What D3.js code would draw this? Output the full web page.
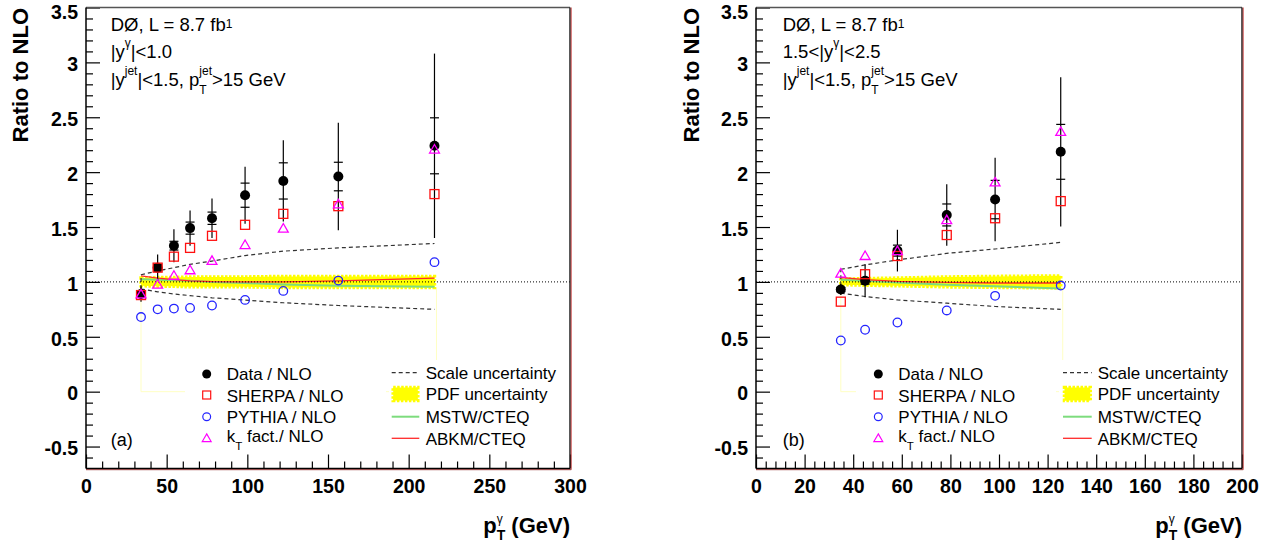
<!DOCTYPE html>
<html><head><meta charset="utf-8">
<script src="https://cdn.jsdelivr.net/npm/d3@7"></script>
<style>body{margin:0;background:#fff} svg{display:block} text{white-space:pre}</style>
</head><body>
<svg id="c" width="1279" height="544"></svg>
<script>
// ---------------- data ----------------
const yTicks = [-0.5, 0, 0.5, 1, 1.5, 2, 2.5, 3, 3.5];
const xTicksA = [0, 50, 100, 150, 200, 250, 300];
const xTicksB = [0, 20, 40, 60, 80, 100, 120, 140, 160, 180, 200];

// panel (a): |y^gamma| < 1.0
const ptA      = [34.1, 44.4, 54.5, 64.5, 78.1, 98.6, 122.3, 156.4, 216];
const dataA    = [0.89, 1.13, 1.33, 1.49, 1.58, 1.79, 1.92, 1.96, 2.24];
const totErrA  = [0.07, 0.12, 0.15, 0.16, 0.18, 0.26, 0.37, 0.49, 0.84];
const statErrA = [0.02, 0.03, 0.04, 0.055, 0.056, 0.11, 0.165, 0.13, 0.255];
const sherpaA  = [0.88, 1.13, 1.23, 1.31, 1.42, 1.52, 1.62, 1.69, 1.80];
const pythiaA  = [0.68, 0.75, 0.757, 0.763, 0.785, 0.836, 0.918, 1.012, 1.18];
const ktA      = [0.88, 0.97, 1.05, 1.10, 1.185, 1.33, 1.48, 1.70, 2.20];
const scaleUpA = [1.065, 1.10, 1.13, 1.16, 1.19, 1.24, 1.28, 1.31, 1.35];
const scaleDnA = [0.935, 0.91, 0.89, 0.875, 0.855, 0.835, 0.81, 0.785, 0.75];
const pdfUpA   = [1.035, 1.04, 1.04, 1.045, 1.045, 1.045, 1.05, 1.05, 1.05];
const pdfDnA   = [0.965, 0.96, 0.96, 0.955, 0.955, 0.955, 0.95, 0.95, 0.95];
const mstwA    = [1.025, 1.02, 1.015, 1.01, 1.0, 0.99, 0.977, 0.965, 0.955];
const abkmA    = [1.055, 1.035, 1.02, 1.01, 1.003, 1.0, 1.0, 1.01, 1.035];

// panel (b): 1.5 < |y^gamma| < 2.5
const ptB      = [34.9, 44.9, 58.2, 78.5, 98.4, 125.4];
const dataB    = [0.93, 1.01, 1.285, 1.61, 1.75, 2.185];
const totErrB  = [0.05, 0.15, 0.19, 0.28, 0.38, 0.68];
const statErrB = [0.02, 0.03, 0.05, 0.10, 0.175, 0.25];
const sherpaB  = [0.82, 1.07, 1.236, 1.427, 1.58, 1.736];
const pythiaB  = [0.466, 0.564, 0.63, 0.74, 0.873, 0.967];
const ktB      = [1.07, 1.23, 1.275, 1.557, 1.90, 2.36];
const scaleUpB = [1.115, 1.155, 1.20, 1.26, 1.30, 1.36];
const scaleDnB = [0.897, 0.867, 0.836, 0.806, 0.776, 0.75];
const pdfUpB   = [1.025, 1.03, 1.035, 1.045, 1.05, 1.055];
const pdfDnB   = [0.975, 0.97, 0.965, 0.955, 0.95, 0.945];
const mstwB    = [1.02, 1.01, 0.995, 0.975, 0.96, 0.94];
const abkmB    = [1.04, 1.02, 1.005, 0.995, 0.99, 0.99];

// text
const yTitle = "Ratio to NLO";
const annA = [
  [{t:"DØ, L = 8.7 fb"},{sup:"1", raise:3}],
  [{t:"|y"},{sup:"γ"},{t:"|<1.0"}],
  [{t:"|y"},{sup:"jet"},{t:"|<1.5, p"},{sup:"jet", sub:"T"},{t:">15 GeV"}]
];
const annB = [
  [{t:"DØ, L = 8.7 fb"},{sup:"1", raise:3}],
  [{t:"1.5<|y"},{sup:"γ"},{t:"|<2.5"}],
  [{t:"|y"},{sup:"jet"},{t:"|<1.5, p"},{sup:"jet", sub:"T"},{t:">15 GeV"}]
];
const legendLeft = [
  [{t:"Data / NLO"}],
  [{t:"SHERPA / NLO"}],
  [{t:"PYTHIA / NLO"}],
  [{t:"k"},{sub:"T"},{t:" fact./ NLO"}]
];
const legendRight = ["Scale uncertainty", "PDF uncertainty", "MSTW/CTEQ", "ABKM/CTEQ"];
const panelLabels = ["(a)", "(b)"];

// ---------------- drawing ----------------
const FONT = "'Liberation Sans', Arial, Helvetica, sans-serif";
const svg = d3.select("#c").style("font-family", FONT);

function rich(g, x, y, segs, o) {
  let cx = x;
  segs.forEach(s => {
    if (s.t !== undefined) {
      const t = g.append("text").attr("x", cx).attr("y", y)
        .attr("font-size", o.size).attr("font-weight", o.weight || "normal").text(s.t);
      cx += t.node().getComputedTextLength();
    } else {
      let w = 0;
      if (s.sup) {
        const t = g.append("text").attr("x", cx).attr("y", y - (s.raise !== undefined ? s.raise : o.raise))
          .attr("font-size", o.supSize).attr("font-weight", o.supWeight || "normal").text(s.sup);
        w = Math.max(w, t.node().getComputedTextLength());
      }
      if (s.sub) {
        const t = g.append("text").attr("x", cx).attr("y", y + o.drop)
          .attr("font-size", o.subSize).attr("font-weight", o.subWeight || "normal").text(s.sub);
        w = Math.max(w, t.node().getComputedTextLength());
      }
      cx += w;
    }
  });
  return cx - x;
}

const TOP = 7.5, BOT = 468.5;
const panels = [
  {x0: 86, x1: 570, dom: [0, 300], ticks: xTicksA, minorStep: 10, lab: panelLabels[0],
   pt: ptA, data: dataA, tot: totErrA, stat: statErrA, sherpa: sherpaA, pythia: pythiaA, kt: ktA,
   sUp: scaleUpA, sDn: scaleDnA, pUp: pdfUpA, pDn: pdfDnA, mstw: mstwA, abkm: abkmA, ann: annA,
   textX: 110.7, legMX: 206.7, legTX: 226.7, legSX0: 391.7, legSX1: 419.3, legT2X: 425.7,
   box1: [185, 386], box2: [389, 568], yTitleX: 28},
  {x0: 756, x1: 1242, dom: [0, 200], ticks: xTicksB, minorStep: 4, lab: panelLabels[1],
   pt: ptB, data: dataB, tot: totErrB, stat: statErrB, sherpa: sherpaB, pythia: pythiaB, kt: ktB,
   sUp: scaleUpB, sDn: scaleDnB, pUp: pdfUpB, pDn: pdfDnB, mstw: mstwB, abkm: abkmB, ann: annB,
   textX: 782.7, legMX: 878.3, legTX: 898.3, legSX0: 1063, legSX1: 1091.7, legT2X: 1097.7,
   box1: [856, 1056], box2: [1059, 1240], yTitleX: 699}
];

const y = d3.scaleLinear().domain([-0.7, 3.5]).range([BOT, TOP]);

panels.forEach(P => {
  const x = d3.scaleLinear().domain(P.dom).range([P.x0, P.x1]);
  const g = svg.append("g");
  const n = P.pt.length;
  const xs = P.pt.map(x);

  // faint yellow outline of the PDF histogram down to zero
  g.append("path")
    .attr("d", d3.line()([[xs[0], y(P.pDn[0])], [xs[0], y(0)], [xs[n-1] + 2, y(0)], [xs[n-1] + 2, y(P.pDn[n-1])]]))
    .attr("fill", "none").attr("stroke", "#ffffc4").attr("stroke-width", 1);

  // PDF band
  const area = d3.area().x((d, i) => xs[i]).y0((d, i) => y(P.pDn[i])).y1((d, i) => y(P.pUp[i]));
  g.append("path").datum(P.pt).attr("d", area)
    .attr("fill", "#ffff00").attr("stroke", "#ffff00").attr("stroke-width", 3.5)
    .attr("stroke-dasharray", "2.5,1.5");

  const lineOf = arr => d3.line().x((d, i) => xs[i]).y(d => y(d))(arr);
  g.append("path").attr("d", lineOf(P.mstw)).attr("fill", "none").attr("stroke", "#7ddc7d").attr("stroke-width", 2);
  g.append("path").attr("d", lineOf(P.abkm)).attr("fill", "none").attr("stroke", "#ff2a2a").attr("stroke-width", 1.3);

  // dotted line at 1
  g.append("line").attr("x1", P.x0).attr("x2", P.x1).attr("y1", y(1)).attr("y2", y(1))
    .attr("stroke", "#000").attr("stroke-width", 1).attr("stroke-dasharray", "1,2");

  // scale uncertainty
  [P.sUp, P.sDn].forEach(arr => g.append("path").attr("d", lineOf(arr)).attr("fill", "none")
    .attr("stroke", "#333").attr("stroke-width", 1.2).attr("stroke-dasharray", "4,3"));
  g.append("line").attr("x1", xs[0]).attr("x2", xs[0]).attr("y1", y(P.sDn[0])).attr("y2", y(P.sUp[0]))
    .attr("stroke", "#333").attr("stroke-width", 1.2).attr("stroke-dasharray", "4,3");

  // data error bars
  P.data.forEach((v, i) => {
    g.append("line").attr("x1", xs[i]).attr("x2", xs[i]).attr("y1", y(v - P.tot[i])).attr("y2", y(v + P.tot[i]))
      .attr("stroke", "#000").attr("stroke-width", 1.2);
    [v - P.stat[i], v + P.stat[i]].forEach(s => g.append("line")
      .attr("x1", xs[i] - 4.5).attr("x2", xs[i] + 4.5).attr("y1", y(s)).attr("y2", y(s))
      .attr("stroke", "#000").attr("stroke-width", 1.2));
  });

  // markers
  P.data.forEach((v, i) => g.append("circle").attr("cx", xs[i]).attr("cy", y(v)).attr("r", 5).attr("fill", "#000"));
  P.sherpa.forEach((v, i) => g.append("rect").attr("x", xs[i] - 4.5).attr("y", y(v) - 4.5).attr("width", 9).attr("height", 9)
    .attr("fill", "none").attr("stroke", "#ff1010").attr("stroke-width", 1.3));
  P.pythia.forEach((v, i) => g.append("circle").attr("cx", xs[i]).attr("cy", y(v)).attr("r", 4.3)
    .attr("fill", "none").attr("stroke", "#2424ff").attr("stroke-width", 1.3));
  const tri = d3.symbol().type(d3.symbolTriangle).size(42);
  P.kt.forEach((v, i) => g.append("path").attr("d", tri).attr("transform", `translate(${xs[i]},${y(v)})`)
    .attr("fill", "none").attr("stroke", "#ff00ff").attr("stroke-width", 1.3));

  // legend boxes (white)
  g.append("rect").attr("x", P.box1[0]).attr("y", 360).attr("width", P.box1[1] - P.box1[0]).attr("height", 95).attr("fill", "#fff");
  g.append("rect").attr("x", P.box2[0]).attr("y", 360).attr("width", P.box2[1] - P.box2[0]).attr("height", 95).attr("fill", "#fff");

  // legend 1
  const rows = [374, 395, 416.7, 439];
  const tb = [380, 401.5, 423, 441.5];
  g.append("circle").attr("cx", P.legMX).attr("cy", rows[0]).attr("r", 4.5).attr("fill", "#000");
  g.append("rect").attr("x", P.legMX - 4).attr("y", rows[1] - 4).attr("width", 8).attr("height", 8)
    .attr("fill", "none").attr("stroke", "#ff1010").attr("stroke-width", 1.2);
  g.append("circle").attr("cx", P.legMX).attr("cy", rows[2]).attr("r", 3.9)
    .attr("fill", "none").attr("stroke", "#2424ff").attr("stroke-width", 1.2);
  g.append("path").attr("d", d3.symbol().type(d3.symbolTriangle).size(34)).attr("transform", `translate(${P.legMX},${rows[3]})`)
    .attr("fill", "none").attr("stroke", "#ff00ff").attr("stroke-width", 1.2);
  legendLeft.forEach((segs, i) => rich(g, P.legTX, tb[i], segs, {size: 17, drop: 8, subSize: 11.5}));

  // legend 2
  const r2 = [372.7, 394, 416.7, 438.3];
  const tb2 = [378.5, 400, 423, 445];
  g.append("line").attr("x1", P.legSX0).attr("x2", P.legSX1).attr("y1", r2[0]).attr("y2", r2[0])
    .attr("stroke", "#333").attr("stroke-width", 1.2).attr("stroke-dasharray", "4,3");
  g.append("rect").attr("x", P.legSX0 + 1.5).attr("y", r2[1] - 6.5).attr("width", P.legSX1 - P.legSX0 - 3).attr("height", 13)
    .attr("fill", "#ffff00").attr("stroke", "#ffff00").attr("stroke-width", 3.5).attr("stroke-dasharray", "2.5,1.5");
  g.append("line").attr("x1", P.legSX0).attr("x2", P.legSX1).attr("y1", r2[2]).attr("y2", r2[2])
    .attr("stroke", "#7ddc7d").attr("stroke-width", 2);
  g.append("line").attr("x1", P.legSX0).attr("x2", P.legSX1).attr("y1", r2[3]).attr("y2", r2[3])
    .attr("stroke", "#ff2a2a").attr("stroke-width", 1.3);
  legendRight.forEach((t, i) => g.append("text").attr("x", P.legT2X).attr("y", tb2[i]).attr("font-size", 17).text(t));

  // panel label
  g.append("text").attr("x", P.textX).attr("y", 446).attr("font-size", 18).text(P.lab);

  // annotations
  const base = [30.5, 57.5, 86];
  P.ann.forEach((segs, i) => rich(g, P.textX, base[i], segs,
    {size: 18.5, supSize: 12, raise: 11, subSize: 12, drop: 8}));

  // axes
  const ya = g.append("g").attr("transform", `translate(${P.x0},0)`)
    .call(d3.axisLeft(y).tickValues(yTicks).tickSize(-14).tickPadding(8).tickFormat(d => String(d)));
  const yMinor = d3.range(-6, 35).filter(i => i % 5 !== 0).map(i => i / 10);
  const ym = g.append("g").attr("transform", `translate(${P.x0},0)`)
    .call(d3.axisLeft(y).tickValues(yMinor).tickSize(-7).tickFormat(""));
  const xa = g.append("g").attr("transform", `translate(0,${BOT})`)
    .call(d3.axisBottom(x).tickValues(P.ticks).tickSize(-14).tickPadding(11).tickFormat(d => String(d)));
  const xMinor = d3.range(P.dom[0], P.dom[1] + 0.001, P.minorStep).filter(v => !P.ticks.includes(v));
  const xm = g.append("g").attr("transform", `translate(0,${BOT})`)
    .call(d3.axisBottom(x).tickValues(xMinor).tickSize(-7).tickFormat(""));
  [ya, ym, xa, xm].forEach(a => {
    a.select(".domain").remove();
    a.selectAll("line").attr("stroke", "#000").attr("stroke-width", 1.2);
    a.selectAll("text").attr("font-size", 19.5).attr("font-weight", "bold").attr("fill", "#000")
      .style("font-family", FONT);
  });
  ya.selectAll("text").attr("y", d => d === 3.5 ? 4.5 : 2);

  // frame
  g.append("line").attr("x1", P.x0).attr("x2", P.x1).attr("y1", TOP).attr("y2", TOP).attr("stroke", "#555").attr("stroke-width", 1.3);
  g.append("line").attr("x1", P.x0).attr("x2", P.x0).attr("y1", TOP).attr("y2", BOT).attr("stroke", "#000").attr("stroke-width", 1.5);
  g.append("line").attr("x1", P.x1).attr("x2", P.x1).attr("y1", TOP).attr("y2", BOT).attr("stroke", "#222").attr("stroke-width", 1.5);
  g.append("line").attr("x1", P.x0).attr("x2", P.x1).attr("y1", BOT).attr("y2", BOT).attr("stroke", "#000").attr("stroke-width", 1.5);
  g.append("line").attr("x1", P.x1 + 1.2).attr("x2", P.x1 + 1.2).attr("y1", TOP).attr("y2", BOT + 1.2).attr("stroke", "#c02020").attr("stroke-width", 0.8);
  g.append("line").attr("x1", P.x0).attr("x2", P.x1 + 1.2).attr("y1", BOT + 1.2).attr("y2", BOT + 1.2).attr("stroke", "#801010").attr("stroke-width", 0.8);

  // y title
  g.append("text").attr("transform", `translate(${P.yTitleX},8) rotate(-90)`)
    .attr("text-anchor", "end").attr("font-size", 22).attr("font-weight", "bold").text(yTitle);

  // x title, right aligned with the frame
  const tg = g.append("g");
  const w = rich(tg, 0, 0, [{t:"p"},{sup:"γ", sub:"T"},{t:" (GeV)"}],
    {size: 22, weight: "bold", supSize: 12, raise: 10, subSize: 14, subWeight: "bold", drop: 7});
  tg.attr("transform", `translate(${P.x1 - w},533)`);
});
</script>
</body></html>
